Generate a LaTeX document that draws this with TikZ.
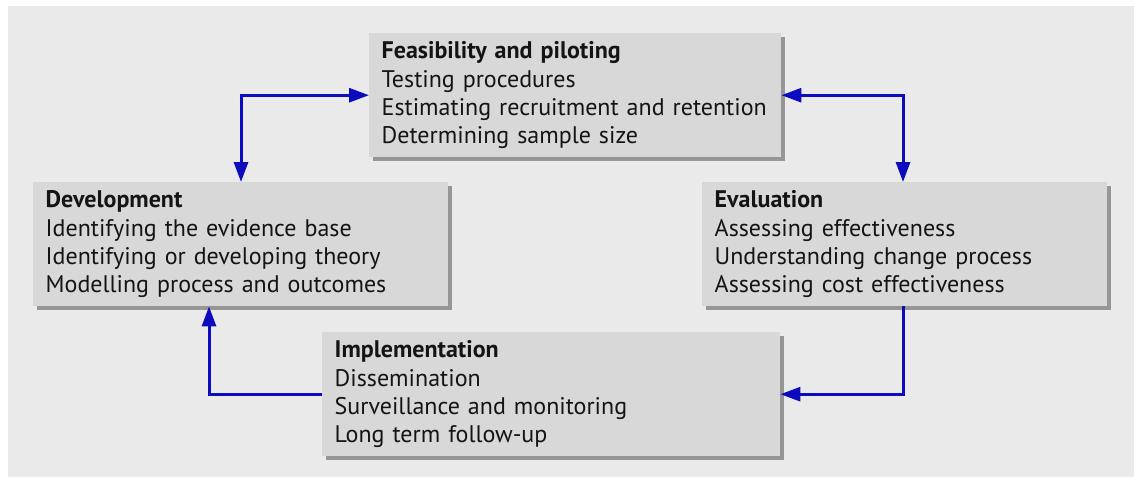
\documentclass[tikz,border=0pt]{standalone}
\usepackage{fontspec}
\setmainfont{PT Sans}
\usetikzlibrary{arrows.meta,shadows}
\definecolor{panel}{RGB}{234,234,234}
\definecolor{boxfill}{RGB}{216,216,216}
\definecolor{shadowc}{RGB}{150,150,150}
\definecolor{arrowblue}{RGB}{12,12,190}
\tikzset{
  stagebox/.style={fill=boxfill, anchor=north west, align=left,
    inner xsep=12.5pt, inner ysep=0pt, minimum height=124pt,
    font=\fontsize{24}{28.3}\selectfont, text=black!92,
    drop shadow={shadow xshift=4pt, shadow yshift=-4pt, fill=shadowc, opacity=1}},
  flowline/.style={draw=arrowblue, line width=3pt},
  single/.style={flowline, -{Triangle[length=20pt,width=14pt]}},
  dbl/.style={flowline, {Triangle[length=20pt,width=14pt]}-{Triangle[length=20pt,width=14pt]}}
}
\begin{document}
\begin{tikzpicture}[x=1pt,y=-1pt]
\useasboundingbox (0,0) rectangle (1134,477);
\fill[white] (0,0) rectangle (1134,477);
\fill[panel] (8,6) rectangle (1134,477);

\node[stagebox, text width=387pt] (feas) at (369,33)
  {\textbf{Feasibility and piloting}\\Testing procedures\\Estimating recruitment and retention\\Determining sample size};
\node[stagebox, text width=390pt] (dev) at (33,182)
  {\textbf{Development}\\Identifying the evidence base\\Identifying or developing theory\\Modelling process and outcomes};
\node[stagebox, text width=380pt] (eval) at (702,182)
  {\textbf{Evaluation}\\Assessing effectiveness\\Understanding change process\\Assessing cost effectiveness};
\node[stagebox, text width=433pt] (impl) at (322,332)
  {\textbf{Implementation}\\Dissemination\\Surveillance and monitoring\\Long term follow-up};

\draw[dbl] (feas.west) -| ([xshift=208pt]dev.north west);
\draw[dbl] (feas.east) -| ([xshift=201pt]eval.north west);
\draw[single] ([xshift=201pt]eval.south west) |- (impl.east);
\draw[single] (impl.west) -| ([xshift=176pt]dev.south west);
\end{tikzpicture}
\end{document}
